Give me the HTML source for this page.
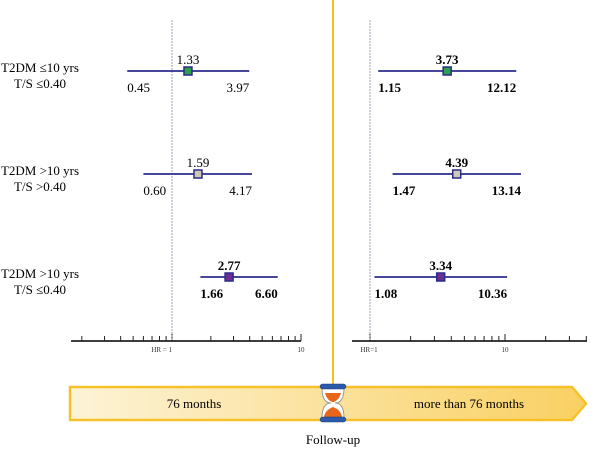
<!DOCTYPE html>
<html><head><meta charset="utf-8"><style>
body{margin:0;background:#fff}
text{font-family:"Liberation Serif",serif}
</style></head><body>
<svg id="c" width="600" height="462" xmlns="http://www.w3.org/2000/svg">
<defs>
<linearGradient id="g" x1="0" x2="1"><stop offset="0" stop-color="#fdf3d6"/><stop offset="1" stop-color="#f9d062"/></linearGradient>
</defs>
<g id="plot"></g>
<line x1="333" y1="0" x2="333" y2="386" stroke="#f5c020" stroke-width="2"/>
<polygon points="70,387 572,387 586,403.5 572,420 70,420" fill="url(#g)" stroke="#f7c12a" stroke-width="2.5"/>
<text x="194" y="408" font-size="13" text-anchor="middle">76 months</text>
<text x="469" y="408" font-size="13" text-anchor="middle">more than 76 months</text>
<g>
<path d="M322,388 Q322,403 331,403 Q322,403 322,418 L344,418 Q344,403 335,403 Q344,403 344,388 Z" fill="#fff" stroke="#999" stroke-width="1"/>
<path d="M325,393 L341,393 Q339,400 334,402 L332,402 Q327,400 325,393 Z" fill="#e8651c"/>
<path d="M333,407 Q341,410 342,417 L324,417 Q325,410 333,407 Z" fill="#e8651c"/>
<rect x="320" y="384" width="26" height="5" rx="2.5" fill="#2d5aa8" stroke="#1a3e80" stroke-width="0.5"/>
<rect x="320" y="417" width="26" height="5" rx="2.5" fill="#2d5aa8" stroke="#1a3e80" stroke-width="0.5"/>
</g>
<text x="333" y="444" font-size="13" text-anchor="middle">Follow-up</text>
</svg>
<script>
const groups = ["T2DM \u226410 yrs|T/S \u22640.40","T2DM >10 yrs|T/S >0.40","T2DM >10 yrs|T/S \u22640.40"];
const leftHR = [1.33,1.59,2.77];
const leftLo = [0.45,0.60,1.66];
const leftHi = [3.97,4.17,6.60];
const rightHR = [3.73,4.39,3.34];
const rightLo = [1.15,1.47,1.08];
const rightHi = [12.12,13.14,10.36];
const leftBold = [false,false,true];
const rightBold = [true,true,true];
const colors = ["#2f9e4c","#cfc9b4","#6b2f93"];
const leftTicks = [0.2,0.3,0.4,0.5,0.6,0.7,0.8,0.9,1,2,3,4,5,6,7,8,9,10];
const rightTicks = [1,2,3,4,5,6,7,8,9,10,20,30,40];

const NS="http://www.w3.org/2000/svg";
const root=document.getElementById('plot');
function el(t,a,txt){const e=document.createElementNS(NS,t);for(const k in a)e.setAttribute(k,a[k]);if(txt!==undefined)e.textContent=txt;root.appendChild(e);return e;}
const xL=v=>172+129*Math.log10(v);
const xR=v=>370+135*Math.log10(v);
const rowY=i=>71+103*i;
const axisY=341;

let a=el('line',{x1:71,y1:axisY,x2:301,y2:axisY,stroke:'#222','stroke-width':1.8});


a=el('line',{x1:352,y1:axisY,x2:587,y2:axisY,stroke:'#222','stroke-width':1.8});


leftTicks.forEach(v=>{const big=(v===1||v===10);const t=el('line',{x1:xL(v),x2:xL(v),y1:axisY-(big?7:5),y2:axisY,stroke:'#222','stroke-width':1});

});
rightTicks.forEach(v=>{const big=(v===1||v===10);const t=el('line',{x1:xR(v),x2:xR(v),y1:axisY-(big?7:5),y2:axisY,stroke:'#222','stroke-width':1});

});
let t;
t=el('text',{x:xL(1),y:352,'font-size':7,'font-family':'Liberation Sans','text-anchor':'end',fill:'#333'},'HR = 1');


t=el('text',{x:xL(10),y:352,'font-size':7,'font-family':'Liberation Sans','text-anchor':'middle',fill:'#333'},'10');


t=el('text',{x:xR(1)-1,y:352,'font-size':7,'font-family':'Liberation Sans','text-anchor':'middle',fill:'#333'},'HR=1');


t=el('text',{x:xR(10),y:352,'font-size':7,'font-family':'Liberation Sans','text-anchor':'middle',fill:'#333'},'10');


t=el('line',{x1:xL(1),x2:xL(1),y1:20,y2:axisY,stroke:'#8a8aa8','stroke-width':0.8,'stroke-dasharray':'2,1'});


t=el('line',{x1:xR(1),x2:xR(1),y1:20,y2:axisY,stroke:'#8a8aa8','stroke-width':0.8,'stroke-dasharray':'2,1'});



function series(fx,hr,lo,hi,bold,side){
  hr.forEach((v,i)=>{
    const y=rowY(i);
    const ln=el('line',{x1:fx(lo[i]),x2:fx(hi[i]),y1:y,y2:y,stroke:'#2b2b8c','stroke-width':1.8});
    
    
    const sq=el('rect',{x:fx(v)-4,y:y-4,width:8,height:8,fill:colors[i],stroke:'#2b2b8c','stroke-width':1.5});
    
    
    const fw=bold[i]?'bold':'normal';
    const a1=el('text',{x:fx(v),y:y-7,'font-size':13,'font-weight':fw,'text-anchor':'middle'},v.toFixed(2));
    
    
    const a2=el('text',{x:fx(lo[i]),y:y+21,'font-size':13,'font-weight':fw,'text-anchor':'start'},lo[i].toFixed(2));
    
    
    const a3=el('text',{x:fx(hi[i]),y:y+21,'font-size':13,'font-weight':fw,'text-anchor':'end'},hi[i].toFixed(2));
    
    
  });
}
series(xL,leftHR,leftLo,leftHi,leftBold,'left');
series(xR,rightHR,rightLo,rightHi,rightBold,'right');
groups.forEach((g,i)=>{
  const [l1,l2]=g.split('|');const y=rowY(i);
  const a=el('text',{x:40,y:y+1,'font-size':13,'text-anchor':'middle'},l1);
  
  
  const b=el('text',{x:40,y:y+17,'font-size':13,'text-anchor':'middle'},l2);
  
  
});
</script>
</body></html>
